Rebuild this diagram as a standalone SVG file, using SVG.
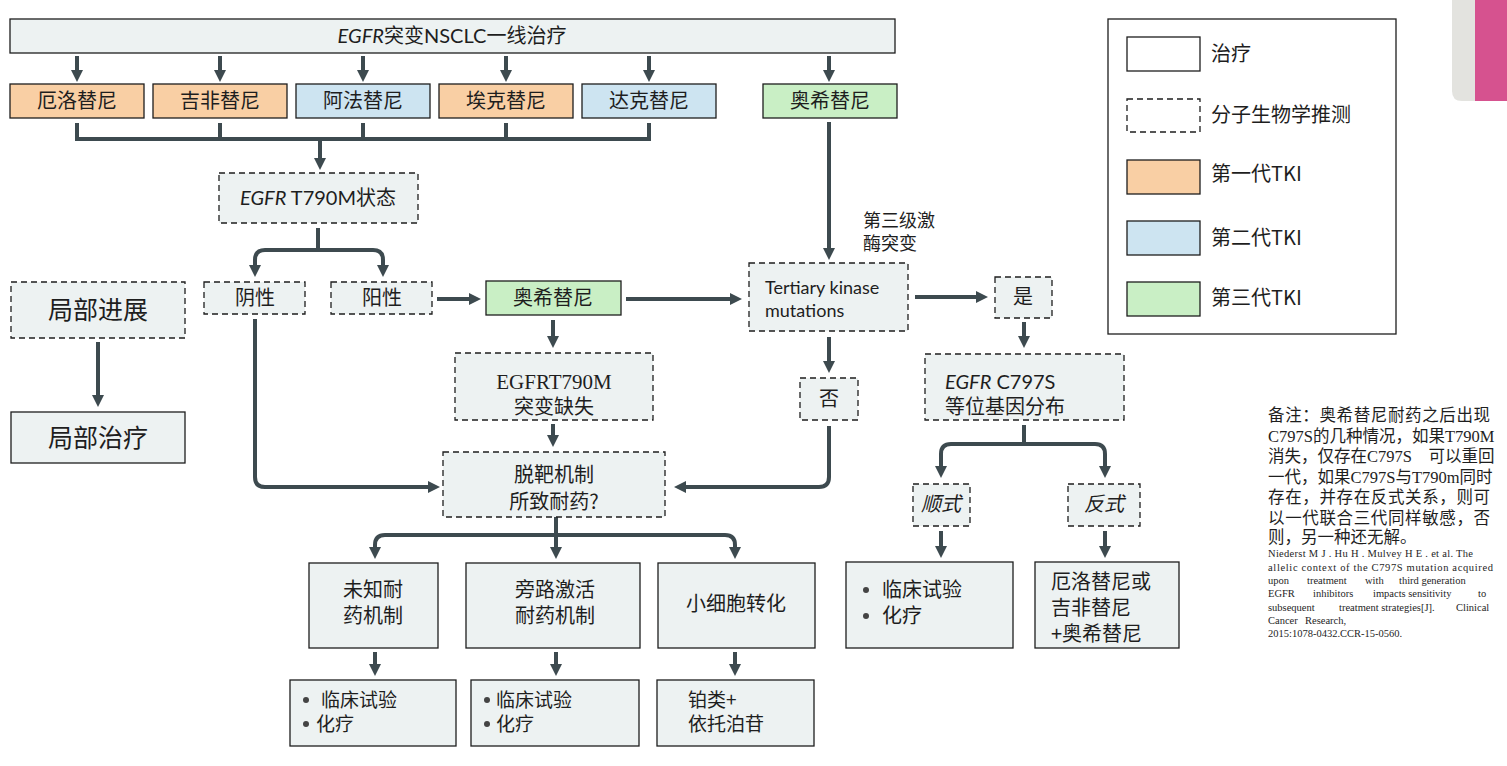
<svg xmlns="http://www.w3.org/2000/svg" width="1507" height="766" viewBox="0 0 1507 766">
<style>
.b{fill:#edf2f2;stroke:#1e1e1e;stroke-width:1.3}
.d{fill:#edf2f2;stroke:#1e1e1e;stroke-width:1.3;stroke-dasharray:6 4}
.o{fill:#f9cfa4;stroke:#1e1e1e;stroke-width:1.3}
.u{fill:#cde4f1;stroke:#1e1e1e;stroke-width:1.3}
.g{fill:#c9efc5;stroke:#1e1e1e;stroke-width:1.3}
.t{font-family:"Noto Sans CJK SC","Liberation Sans",sans-serif;font-size:20px;fill:#1e1e1e}
.c{text-anchor:middle}
.lat{font-family:Lato,"Noto Sans CJK SC",sans-serif}
.ser{font-family:"Liberation Serif","Noto Sans CJK SC",serif}
.it{font-style:italic}
.cn path{fill:none;stroke:#3d4a4f;stroke-width:4}
.note{font-family:"Liberation Serif","Noto Sans CJK SC",serif;font-size:16.5px;fill:#1e1e1e}
.ref{font-family:"Liberation Serif",serif;font-size:10.5px;fill:#1e1e1e}
</style>
<defs>
<marker id="ah" viewBox="0 0 12 12" markerWidth="12" markerHeight="12" markerUnits="userSpaceOnUse" refX="2" refY="6" orient="auto">
<path d="M0,0 L12,6 L0,12 z" fill="#3d4a4f"/>
</marker>
</defs>

<!-- side tab -->
<path d="M1452,0 H1476 V101 H1462 Q1452,101 1452,91 Z" fill="#e3e3df"/>
<rect x="1475" y="0" width="32" height="101" fill="#d6528f"/>

<g class="cn">
<path d="M77,56 V72" marker-end="url(#ah)"/>
<path d="M220,56 V72" marker-end="url(#ah)"/>
<path d="M363,56 V72" marker-end="url(#ah)"/>
<path d="M506,56 V72" marker-end="url(#ah)"/>
<path d="M649,56 V72" marker-end="url(#ah)"/>
<path d="M829,56 V72" marker-end="url(#ah)"/>
<path d="M77,123 V139 H649 V123"/>
<path d="M220,123 V139"/>
<path d="M363,123 V139"/>
<path d="M506,123 V139"/>
<path d="M320,139 V160" marker-end="url(#ah)"/>
<path d="M829,122 V250" marker-end="url(#ah)"/>
<path d="M318,228 V250"/>
<path d="M318,250 H265 Q255,250 255,260 V267" marker-end="url(#ah)"/>
<path d="M318,250 H373 Q383,250 383,260 V267" marker-end="url(#ah)"/>
<path d="M437,299 H471" marker-end="url(#ah)"/>
<path d="M255,319 V477 Q255,487 265,487 H430" marker-end="url(#ah)"/>
<path d="M98,342 V397" marker-end="url(#ah)"/>
<path d="M626,299 H732" marker-end="url(#ah)"/>
<path d="M553,320 V338" marker-end="url(#ah)"/>
<path d="M553,424 V437" marker-end="url(#ah)"/>
<path d="M829,337 V363" marker-end="url(#ah)"/>
<path d="M829,426 V477 Q829,487 819,487 H684" marker-end="url(#ah)"/>
<path d="M915,297 H978" marker-end="url(#ah)"/>
<path d="M1024,322 V338" marker-end="url(#ah)"/>
<path d="M1024,425 V444"/>
<path d="M1024,444 H951 Q941,444 941,454 V468" marker-end="url(#ah)"/>
<path d="M1024,444 H1095 Q1105,444 1105,454 V468" marker-end="url(#ah)"/>
<path d="M941,531 V548" marker-end="url(#ah)"/>
<path d="M1105,531 V548" marker-end="url(#ah)"/>
<path d="M556,517 V549" marker-end="url(#ah)"/>
<path d="M556,535 H385 Q375,535 375,545 V549" marker-end="url(#ah)"/>
<path d="M556,535 H725 Q735,535 735,545 V549" marker-end="url(#ah)"/>
<path d="M375,652 V666" marker-end="url(#ah)"/>
<path d="M556,652 V666" marker-end="url(#ah)"/>
<path d="M735,652 V666" marker-end="url(#ah)"/>
</g>

<g id="top"><rect class="b" x="10" y="19" width="885" height="34"/>
<text class="t c" x="452" y="43"><tspan class="lat it">EGFR</tspan>突变<tspan class="lat">NSCLC</tspan>一线治疗</text></g>

<g id="erlotinib"><rect class="o" x="10" y="84" width="134" height="34"/><text class="t c" x="77" y="108">厄洛替尼</text></g>
<g id="gefitinib"><rect class="o" x="153" y="84" width="134" height="34"/><text class="t c" x="220" y="108">吉非替尼</text></g>
<g id="afatinib"><rect class="u" x="296" y="84" width="134" height="34"/><text class="t c" x="363" y="108">阿法替尼</text></g>
<g id="icotinib"><rect class="o" x="439" y="84" width="134" height="34"/><text class="t c" x="506" y="108">埃克替尼</text></g>
<g id="dacomitinib"><rect class="u" x="582" y="84" width="134" height="34"/><text class="t c" x="649" y="108">达克替尼</text></g>
<g id="osimertinib1"><rect class="g" x="763" y="84" width="134" height="34"/><text class="t c" x="830" y="108">奥希替尼</text></g>

<g id="t790m"><rect class="d" x="219" y="173" width="199" height="50"/>
<text class="t c" x="318" y="205"><tspan class="lat it">EGFR</tspan><tspan class="lat"> T790M</tspan>状态</text></g>

<g id="local-prog"><rect class="d" x="11" y="282" width="174" height="56"/><text class="t c" x="98" y="319" style="font-size:25px">局部进展</text></g>
<g id="local-tx"><rect class="b" x="11" y="412" width="174" height="51"/><text class="t c" x="98" y="447" style="font-size:25px">局部治疗</text></g>

<g id="neg"><rect class="d" x="204" y="282" width="101" height="32"/><text class="t c" x="255" y="305">阴性</text></g>
<g id="pos"><rect class="d" x="331" y="282" width="101" height="32"/><text class="t c" x="382" y="305">阳性</text></g>

<g id="osimertinib2"><rect class="g" x="486" y="281" width="135" height="34"/><text class="t c" x="553" y="305">奥希替尼</text></g>

<g id="tertiary"><rect class="d" x="749" y="263" width="159" height="68"/>
<text class="t lat" x="765" y="294" style="font-size:18px">Tertiary kinase</text>
<text class="t lat" x="765" y="317" style="font-size:18px">mutations</text></g>
<g id="tertiary-label"><text class="t" x="863" y="227" style="font-size:18px">第三级激</text><text class="t" x="863" y="250" style="font-size:18px">酶突变</text></g>

<g id="t790m-loss"><rect class="d" x="455" y="353" width="198" height="67"/>
<text class="t c ser" x="554" y="389" style="font-size:21px">EGFRT790M</text>
<text class="t c" x="554" y="414">突变缺失</text></g>

<g id="no"><rect class="d" x="800" y="378" width="58" height="42"/><text class="t c" x="829" y="406">否</text></g>
<g id="yes"><rect class="d" x="995" y="277" width="57" height="41"/><text class="t c" x="1023" y="304">是</text></g>

<g id="offtarget"><rect class="d" x="443" y="452" width="222" height="65"/>
<text class="t c" x="554" y="482">脱靶机制</text><text class="t c" x="554" y="509">所致耐药?</text></g>

<g id="c797s"><rect class="d" x="925" y="354" width="199" height="66"/>
<text class="t" x="945" y="389"><tspan class="lat it">EGFR</tspan><tspan class="lat"> C797S</tspan></text>
<text class="t" x="945" y="414">等位基因分布</text></g>

<g id="cis"><rect class="d" x="913" y="484" width="57" height="42"/><text class="t c it" x="941" y="511">顺式</text></g>
<g id="trans"><rect class="d" x="1068" y="484" width="72" height="42"/><text class="t c it" x="1104" y="511">反式</text></g>

<g id="cis-tx"><rect class="b" x="846" y="562" width="167" height="86"/>
<circle cx="866" cy="590" r="3" fill="#444"/><circle cx="866" cy="616" r="3" fill="#444"/>
<text class="t" x="882" y="597">临床试验</text><text class="t" x="882" y="623">化疗</text></g>
<g id="trans-tx"><rect class="b" x="1035" y="562" width="144" height="86"/>
<text class="t" x="1051" y="589">厄洛替尼或</text><text class="t" x="1051" y="615">吉非替尼</text><text class="t" x="1051" y="641">+奥希替尼</text></g>

<g id="unknown"><rect class="b" x="309" y="563" width="129" height="85"/>
<text class="t c" x="373" y="597">未知耐</text><text class="t c" x="373" y="623">药机制</text></g>
<g id="bypass"><rect class="b" x="466" y="563" width="174" height="85"/>
<text class="t c" x="555" y="597">旁路激活</text><text class="t c" x="555" y="623">耐药机制</text></g>
<g id="sclc"><rect class="b" x="658" y="563" width="157" height="85"/>
<text class="t c" x="736" y="611">小细胞转化</text></g>

<g id="unknown-tx"><rect class="b" x="290" y="680" width="166" height="66"/>
<circle cx="306" cy="700" r="3" fill="#444"/><circle cx="306" cy="724" r="3" fill="#444"/>
<text class="t" x="321" y="707" style="font-size:19px">临床试验</text><text class="t" x="316" y="731" style="font-size:19px">化疗</text></g>
<g id="bypass-tx"><rect class="b" x="471" y="680" width="168" height="66"/>
<circle cx="487" cy="700" r="3" fill="#444"/><circle cx="487" cy="724" r="3" fill="#444"/>
<text class="t" x="496" y="707" style="font-size:19px">临床试验</text><text class="t" x="496" y="731" style="font-size:19px">化疗</text></g>
<g id="sclc-tx"><rect class="b" x="657" y="680" width="157" height="66"/>
<text class="t" x="688" y="707" style="font-size:19px">铂类+</text><text class="t" x="688" y="731" style="font-size:19px">依托泊苷</text></g>

<g id="legend"><rect x="1108" y="19" width="288" height="315" fill="#fff" stroke="#1e1e1e" stroke-width="1.3"/>
<rect x="1127" y="37" width="73" height="34" fill="#fff" stroke="#1e1e1e" stroke-width="1.3"/>
<rect x="1127" y="99" width="73" height="33" fill="#fff" stroke="#1e1e1e" stroke-width="1.3" stroke-dasharray="6 4"/>
<rect class="o" x="1127" y="160" width="73" height="34"/>
<rect class="u" x="1127" y="221" width="73" height="34"/>
<rect class="g" x="1127" y="282" width="73" height="34"/>
<text class="t" x="1211" y="61">治疗</text>
<text class="t" x="1211" y="122">分子生物学推测</text>
<text class="t" x="1211" y="181">第一代TKI</text>
<text class="t" x="1211" y="245">第二代TKI</text>
<text class="t" x="1211" y="305">第三代TKI</text></g>

<g id="note">
<text class="note" x="1268" y="421" textLength="222" lengthAdjust="spacing">备注：奥希替尼耐药之后出现</text>
<text class="note" x="1268" y="441.5">C797S的几种情况，如果T790M</text>
<text class="note" x="1268" y="462">消失，仅存在C797S　可以重回</text>
<text class="note" x="1268" y="482.5">一代，如果C797S与T790m同时</text>
<text class="note" x="1268" y="503" textLength="222" lengthAdjust="spacing">存在，并存在反式关系，则可</text>
<text class="note" x="1268" y="523.5" textLength="222" lengthAdjust="spacing">以一代联合三代同样敏感，否</text>
<text class="note" x="1268" y="543">则，另一种还无解。</text>
<text class="ref" x="1268" y="557" textLength="205" lengthAdjust="spacing">Niederst M J . Hu H . Mulvey H E . et al. The</text>
<text class="ref" x="1268" y="571" textLength="225" lengthAdjust="spacing">allelic context of the C797S mutation acquired</text>
<text class="ref" y="584"><tspan x="1268">upon</tspan><tspan x="1307">treatment</tspan><tspan x="1365">with</tspan><tspan x="1399">third generation</tspan></text>
<text class="ref" y="597"><tspan x="1268">EGFR</tspan><tspan x="1313">inhibitors</tspan><tspan x="1373">impacts sensitivity</tspan><tspan x="1478">to</tspan></text>
<text class="ref" y="611"><tspan x="1268">subsequent</tspan><tspan x="1339">treatment strategies[J].</tspan><tspan x="1456">Clinical</tspan></text>
<text class="ref" y="624"><tspan x="1268">Cancer</tspan><tspan x="1305">Research,</tspan></text>
<text class="ref" x="1268" y="637">2015:1078-0432.CCR-15-0560.</text>
</g>
</svg>
